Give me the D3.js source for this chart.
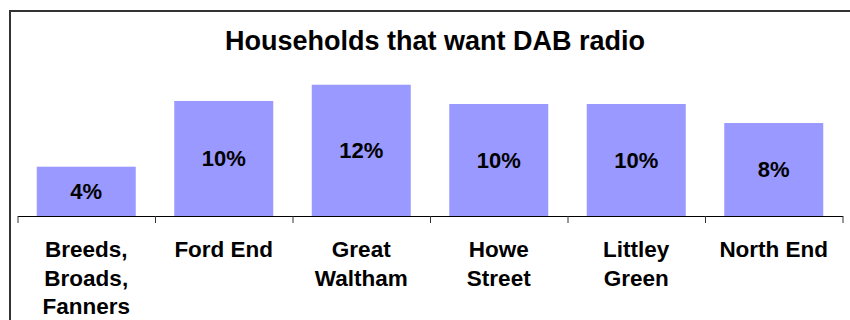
<!DOCTYPE html>
<html>
<head>
<meta charset="utf-8">
<script src="https://cdn.jsdelivr.net/npm/d3@7"></script>
<style>
  html, body { margin: 0; padding: 0; background: #ffffff; }
  svg { display: block; }
  text { font-family: "Liberation Sans", Arial, sans-serif; font-weight: bold; fill: #000; }
</style>
</head>
<body>
<script>
// Share of households wanting DAB radio, by area
const categories = ["Breeds, Broads, Fanners", "Ford End", "Great Waltham", "Howe Street", "Littley Green", "North End"];
const shares = [0.044, 0.1027, 0.1172, 0.100, 0.100, 0.083];
const titleText = "Households that want DAB radio";

const W = 850, H = 320;
const svg = d3.select("body").append("svg").attr("width", W).attr("height", H);

// Frame around the chart area
svg.append("rect")
  .attr("x", 10).attr("y", 11)
  .attr("width", 900).attr("height", 400)
  .attr("fill", "none").attr("stroke", "#333").attr("stroke-width", 2);

const plotLeft = 17.5, plotRight = 842.5, plotBase = 216, plotTop = 59.2;

const x = d3.scaleBand().domain(categories).range([plotLeft, plotRight])
  .paddingInner(0.28).paddingOuter(0.14);
const y = d3.scaleLinear().domain([0, 0.14]).range([plotBase, plotTop]);
const pct = d3.format(".0%");

const rows = categories.map((c, i) => ({ c, v: shares[i] }));

// Bars
svg.append("g").selectAll("rect")
  .data(rows)
  .join("rect")
  .attr("x", d => x(d.c))
  .attr("y", d => y(d.v))
  .attr("width", x.bandwidth())
  .attr("height", d => y(0) - y(d.v))
  .attr("fill", "#9999ff");

// Value labels in the middle of each bar
svg.append("g").selectAll("text")
  .data(rows)
  .join("text")
  .attr("x", d => x(d.c) + x.bandwidth() / 2)
  .attr("y", d => (y(d.v) + y(0)) / 2)
  .attr("dy", "0.36em")
  .attr("text-anchor", "middle")
  .style("font-size", "22px")
  .text(d => pct(d.v));

// Axis line with tick marks between categories
const edges = d3.scaleLinear().domain([0, categories.length]).range([plotLeft, plotRight]);
const axis = svg.append("g").attr("transform", `translate(0,${plotBase})`)
  .call(d3.axisBottom(edges).tickValues(d3.range(categories.length + 1))
    .tickFormat("").tickSize(7).tickSizeOuter(0));
axis.select(".domain").attr("stroke", "#000").attr("stroke-width", 1);
axis.selectAll(".tick line").attr("stroke", "#333");

// Category names, wrapped to fit under each bar
const maxLine = 118, lineGap = 28.5, firstBaseline = 257;
svg.append("g").selectAll("text")
  .data(categories)
  .join("text")
  .attr("x", d => x(d) + x.bandwidth() / 2)
  .attr("y", firstBaseline)
  .attr("text-anchor", "middle")
  .style("font-size", "22.5px")
  .each(function (d) {
    const el = d3.select(this);
    const cx = el.attr("x");
    let line = [];
    let tspan = el.append("tspan").attr("x", cx).attr("dy", 0);
    d.split(" ").forEach(w => {
      line.push(w);
      tspan.text(line.join(" "));
      if (tspan.node().getComputedTextLength() > maxLine && line.length > 1) {
        line.pop();
        tspan.text(line.join(" "));
        line = [w];
        tspan = el.append("tspan").attr("x", cx).attr("dy", lineGap).text(w);
      }
    });
  });

// Title
svg.append("text")
  .attr("x", 435).attr("y", 49.5)
  .attr("text-anchor", "middle")
  .style("font-size", "27px")
  .text(titleText);
</script>
</body>
</html>
